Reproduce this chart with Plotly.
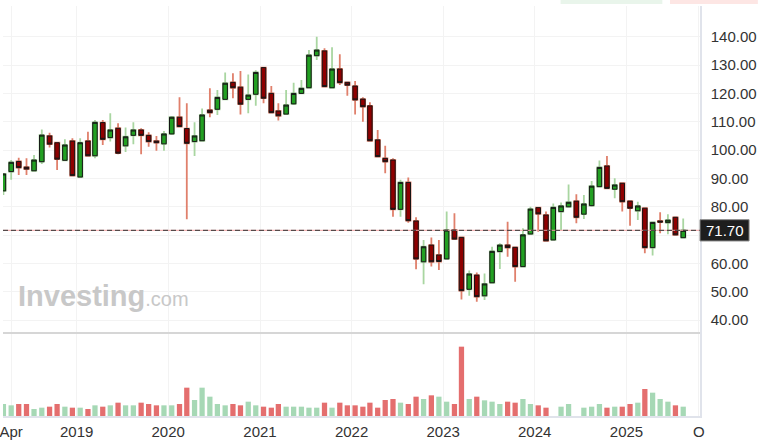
import pandas as pd
import plotly.graph_objects as go

# ---------------- data (monthly candles, Mar 2018 .. Aug 2025) ----------------
months = pd.date_range("2018-03-01", periods=90, freq="MS") + pd.Timedelta(days=14)

opens = [85.6, 92.4, 96.0, 94.0, 92.7, 95.9, 105.0, 102.6, 96.4, 103.2,
         90.5, 103.2, 98.0, 109.7, 104.4, 107.7, 101.5, 105.2, 107.1, 105.2,
         103.2, 102.2, 105.7, 111.6, 107.6, 103.0, 103.3, 114.1, 114.4, 117.9,
         123.9, 122.2, 117.9, 119.7, 129.1, 120.0, 113.8, 112.7, 116.3, 120.0,
         122.0, 133.3, 135.0, 122.0, 128.6, 123.9, 122.6, 118.0, 115.6, 103.6,
         97.1, 96.5, 79.1, 88.6, 75.0, 60.6, 66.5, 63.0, 61.6, 71.8,
         69.2, 50.9, 55.9, 48.6, 53.2, 64.2, 66.5, 65.7, 58.9, 70.4,
         79.7, 77.1, 68.3, 78.3, 80.0, 82.0, 77.4, 80.4, 87.1, 94.4,
         86.2, 88.3, 82.0, 78.6, 79.5, 65.6, 75.0, 74.4, 76.3, 69.1]
highs = [91.8, 96.5, 97.3, 97.1, 98.3, 107.3, 106.1, 102.8, 103.8, 104.2,
         104.2, 106.5, 110.6, 110.6, 113.0, 109.5, 108.0, 109.8, 107.7, 106.3,
         105.0, 106.7, 112.0, 118.6, 116.5, 109.8, 114.7, 121.8, 121.2, 127.4,
         127.1, 127.9, 126.7, 128.2, 129.4, 122.6, 116.5, 121.2, 123.8, 124.7,
         135.3, 140.0, 135.9, 136.3, 133.8, 124.1, 124.4, 118.6, 116.9, 107.1,
         101.5, 97.1, 89.5, 90.3, 76.3, 68.3, 69.2, 68.3, 78.3, 77.7,
         69.5, 57.5, 56.8, 56.5, 65.9, 67.1, 74.7, 65.9, 72.4, 80.0,
         80.0, 78.3, 81.2, 81.5, 87.9, 84.4, 84.2, 89.1, 96.3, 97.9,
         90.1, 88.5, 82.2, 81.8, 79.7, 74.7, 78.1, 77.4, 76.5, 75.9]
lows = [84.2, 89.5, 91.2, 91.2, 92.4, 95.1, 100.9, 93.0, 96.2, 90.9,
        90.5, 97.8, 97.1, 101.8, 103.0, 98.5, 99.3, 102.1, 98.5, 101.2,
        99.8, 99.8, 105.3, 108.0, 75.6, 97.9, 103.0, 111.6, 112.4, 117.7,
        118.3, 112.6, 113.0, 115.6, 116.5, 113.0, 110.4, 112.4, 115.9, 119.8,
        121.8, 131.8, 122.2, 121.6, 123.0, 119.2, 112.6, 110.0, 103.0, 97.5,
        91.8, 76.5, 76.5, 74.4, 58.0, 52.7, 58.9, 57.7, 61.5, 68.3,
        47.3, 48.6, 46.5, 47.1, 53.0, 58.1, 62.4, 53.6, 58.7, 70.1,
        71.2, 67.7, 68.0, 71.8, 79.8, 74.2, 75.7, 80.0, 86.9, 86.3,
        83.0, 78.3, 73.3, 75.3, 63.6, 62.8, 70.7, 70.3, 69.8, 68.9]
closes = [91.6, 95.7, 93.8, 93.3, 96.5, 105.3, 102.1, 96.8, 101.8, 91.0,
          102.6, 98.0, 109.8, 103.8, 107.1, 98.9, 104.7, 107.1, 105.2, 103.0,
          102.6, 105.7, 111.6, 108.3, 102.4, 105.0, 112.4, 113.2, 118.6, 123.6,
          122.0, 116.2, 119.4, 127.4, 118.3, 113.2, 112.1, 115.9, 120.0, 121.8,
          133.5, 135.3, 122.4, 128.6, 123.8, 122.9, 117.7, 115.3, 103.3, 97.7,
          95.9, 79.1, 88.6, 75.1, 61.6, 65.9, 60.6, 60.7, 71.8, 68.6,
          50.4, 56.3, 48.3, 52.8, 64.3, 66.5, 65.6, 58.9, 70.1, 79.2,
          77.5, 68.0, 79.8, 80.3, 81.6, 76.3, 81.0, 87.3, 93.9, 86.5,
          87.7, 81.8, 79.5, 80.3, 65.6, 74.5, 74.6, 75.3, 70.1, 71.7]
volumes = [3.6, 3.2, 3.6, 3.6, 2.1, 2.5, 2.8, 3.6, 2.8, 2.5,
           2.5, 2.1, 3.2, 2.8, 3.2, 4.0, 3.2, 3.2, 4.0, 3.6,
           3.2, 3.2, 3.2, 3.6, 8.5, 4.8, 8.5, 5.8, 3.6, 3.2,
           3.6, 3.2, 4.3, 3.2, 2.8, 2.5, 3.6, 2.8, 2.8, 2.8,
           2.5, 2.5, 4.0, 2.5, 4.0, 3.2, 3.2, 2.8, 4.0, 2.5,
           4.8, 5.1, 4.0, 3.6, 5.8, 5.1, 6.2, 5.8, 4.3, 3.6,
           20.8, 5.1, 5.8, 4.7, 4.3, 3.6, 4.3, 4.0, 5.1, 3.6,
           3.2, 2.5, None, 2.8, 3.6, None, 2.5, 2.8, 3.6, 2.5,
           2.8, 2.8, 3.6, 4.0, 8.1, 7.0, 5.1, 4.3, 3.2, 2.8]
last_price = 71.70

price_ticks = [40, 50, 60, 70, 80, 90, 100, 110, 120, 130, 140]
price_tick_text = ["" if v == 70 else f"{v:.2f}" for v in price_ticks]
x_tick_vals = ["2018-04-15", "2019-01-01", "2020-01-01", "2021-01-01", "2022-01-01",
               "2023-01-01", "2024-01-01", "2025-01-01", "2025-10-16"]
x_tick_text = ["Apr", "2019", "2020", "2021", "2022", "2023", "2024", "2025", "O"]

# ---------------- styles ----------------
BODY_UP, BODY_DN = "#22a022", "#8e0000"
WICK_UP, WICK_DN = "#a9d6a1", "#e0806c"
VOL_UP, VOL_DN = "#a6d8b5", "#e46e6e"
GRID = "#f3f3f3"
AXLINE = "#e0e3eb"
FONT = "Liberation Sans, Arial, sans-serif"

vol_up = [True] + [c >= p for p, c in zip(closes[:-1], closes[1:])]
vol_colors = [VOL_UP if u else VOL_DN for u in vol_up]
body_hi = [max(o, c) for o, c in zip(opens, closes)]
body_lo = [min(o, c) for o, c in zip(opens, closes)]

fig = go.Figure()
# wicks (light)
fig.add_trace(go.Candlestick(
    x=months, open=opens, high=highs, low=lows, close=closes,
    increasing=dict(line=dict(color=WICK_UP, width=1.8), fillcolor=WICK_UP),
    decreasing=dict(line=dict(color=WICK_DN, width=1.8), fillcolor=WICK_DN),
    whiskerwidth=0, xaxis="x2", yaxis="y", hoverinfo="skip", showlegend=False))
# bodies (dark outline)
fig.add_trace(go.Candlestick(
    x=months, open=opens, high=body_hi, low=body_lo, close=closes,
    increasing=dict(line=dict(color="#151515", width=1), fillcolor=BODY_UP),
    decreasing=dict(line=dict(color="#151515", width=1), fillcolor=BODY_DN),
    whiskerwidth=0, xaxis="x2", yaxis="y", showlegend=False))
# volume
fig.add_trace(go.Bar(
    x=months, y=volumes, marker=dict(color=vol_colors, line=dict(width=0)),
    width=21 * 86400000, xaxis="x", yaxis="y2", showlegend=False))

SPLIT = 83 / 410
XR = ["2018-03-13 08:00", "2025-10-20 22:00"]

fig.update_layout(
    width=758, height=444,
    margin=dict(l=0, r=58, t=6, b=28),
    paper_bgcolor="white", plot_bgcolor="white",
    font=dict(family=FONT, size=15, color="#333333"),
    showlegend=False, boxgap=0.2, boxgroupgap=0.2,
    xaxis=dict(domain=[0, 1], anchor="y2", type="date", range=XR,
               tickvals=x_tick_vals, ticktext=x_tick_text, ticks="",
               showgrid=True, gridcolor=GRID, gridwidth=1,
               showline=True, linecolor=AXLINE, linewidth=1.5,
               zeroline=False, rangeslider=dict(visible=False),
               ticklabelstandoff=1, ticklabeloverflow="allow"),
    xaxis2=dict(matches="x", anchor="y", type="date", range=XR,
                tickvals=x_tick_vals, showticklabels=False, ticks="",
                showgrid=True, gridcolor=GRID, gridwidth=1,
                zeroline=False, rangeslider=dict(visible=False)),
    yaxis=dict(domain=[SPLIT, 1], anchor="x2", side="right",
               range=[35.48, 150.83], tickvals=price_ticks, ticktext=price_tick_text,
               ticks="", showgrid=True, gridcolor=GRID, gridwidth=1,
               showline=True, linecolor=AXLINE, linewidth=1.5, zeroline=False,
               ticklabelstandoff=6),
    yaxis2=dict(domain=[0, SPLIT], anchor="x", side="right", range=[0, 24.9],
                showticklabels=False, showgrid=False, ticks="",
                showline=True, linecolor=AXLINE, linewidth=1.5, zeroline=False),
)

shapes = [
    # faint coloured strip along the very top (page chrome)
    dict(type="rect", xref="paper", yref="paper", x0=0.80, x1=0.946,
         y0=1.0049, y1=1.0146, fillcolor="#e9f5eb", line=dict(width=0), layer="below"),
    dict(type="rect", xref="paper", yref="paper", x0=0.957, x1=1.083,
         y0=1.0049, y1=1.0146, fillcolor="#fde6e4", line=dict(width=0), layer="below"),
    dict(type="line", xref="paper", yref="paper", x0=0, x1=1, y0=SPLIT, y1=SPLIT,
         line=dict(color="#d6d6d6", width=2)),
    dict(type="line", xref="paper", yref="y", x0=0, x1=1, y0=last_price, y1=last_price,
         line=dict(color="#f2a3a3", width=1)),
    dict(type="line", xref="paper", yref="y", x0=0, x1=1, y0=last_price, y1=last_price,
         line=dict(color="#333333", width=1, dash="5px,3px")),
    dict(type="rect", xref="paper", yref="y", x0=1.0, x1=1.0704,
         y0=last_price - 3.76, y1=last_price + 3.76,
         fillcolor="#1e1e1e", line=dict(color="#8a8a8a", width=1)),
]
fig.update_layout(shapes=shapes)

fig.add_annotation(xref="paper", yref="y", x=1.0352, y=last_price,
                   text=f"{last_price:.2f}", showarrow=False, xanchor="center", yanchor="middle",
                   font=dict(family=FONT, size=15, color="white"))
fig.add_annotation(xref="paper", yref="paper", x=13 / 700, y=(416 - 296) / 410,
                   text="<b>Investing</b><span style='font-size:20px'>.com</span>",
                   showarrow=False, xanchor="left", yanchor="middle",
                   font=dict(family=FONT, size=29, color="#c8c8c8"))

fig.write_html("out.html", config={"displayModeBar": False},
               post_script="document.body.style.margin='0px';document.body.style.overflow='hidden';")
